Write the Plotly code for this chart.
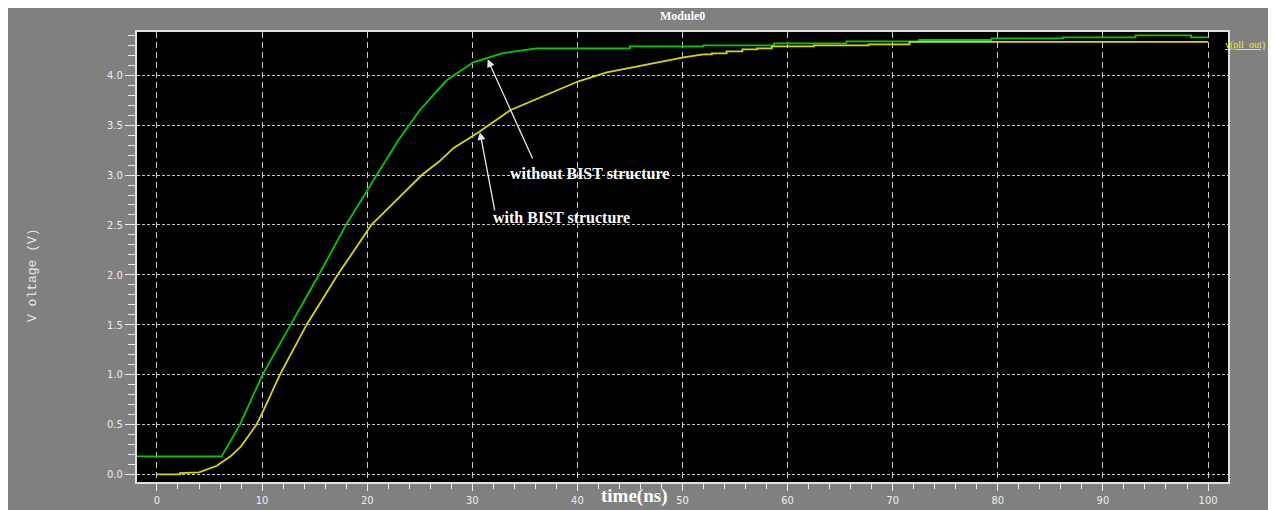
import plotly.graph_objects as go

# ---- data ----
t_without = [-1.9, 0, 2, 4, 6.15, 7.9, 10.05, 12.72, 15.41, 17.98, 20.9, 22.96, 25.0, 27.56, 30.1,
             32.8, 36.1, 40.0, 45.0, 45.0, 52.0, 52.0, 58.7, 58.7, 65.6, 65.6, 72.5, 72.5, 79.4,
             79.4, 86.2, 86.2, 93.1, 93.1, 98.4, 98.4, 100.0]
v_without = [0.18, 0.18, 0.18, 0.18, 0.18, 0.50, 1.00, 1.50, 2.00, 2.50, 3.00, 3.35, 3.65, 3.95, 4.13,
             4.22, 4.27, 4.27, 4.27, 4.29, 4.29, 4.30, 4.30, 4.32, 4.32, 4.34, 4.34, 4.354, 4.354,
             4.37, 4.37, 4.38, 4.38, 4.40, 4.40, 4.38, 4.38]

t_with = [0.0, 2.2, 2.2, 4.0, 5.7, 7.0, 8.0, 9.48, 10.0, 11.7, 14.24, 17.19, 20.4, 25.2, 26.9, 28.2,
          30.6, 33.6, 40.1, 42.8, 50.1, 52.0, 52.8, 52.8, 54.2, 54.2, 55.7, 55.7, 57.1, 57.1, 58.5,
          58.5, 62.5, 62.5, 67.7, 67.7, 71.6, 71.6, 100.0]
v_with = [0.0, 0.0, 0.013, 0.02, 0.086, 0.18, 0.28, 0.50, 0.61, 1.00, 1.50, 2.00, 2.50, 3.00, 3.14, 3.27,
          3.43, 3.65, 3.94, 4.03, 4.18, 4.21, 4.21, 4.22, 4.22, 4.24, 4.24, 4.26, 4.26, 4.27, 4.27,
          4.29, 4.29, 4.30, 4.30, 4.31, 4.31, 4.335, 4.335]

x_ticks = [0, 10, 20, 30, 40, 50, 60, 70, 80, 90, 100]
y_ticks = [0.0, 0.5, 1.0, 1.5, 2.0, 2.5, 3.0, 3.5, 4.0]

title_text = "Module0"
x_title = "time(ns)"
y_title = "V oltage (V)"
legend_text = "v(pll_out)"
label_without = "without BIST structure"
label_with = "with BIST structure"

X_RANGE = [-1.9, 101.9]
Y_RANGE = [-0.077, 4.434]

fig = go.Figure()
fig.add_trace(go.Scatter(x=t_without, y=v_without, mode="lines",
                         line=dict(color="#00cc00", width=1.8), name="without BIST"))
fig.add_trace(go.Scatter(x=t_with, y=v_with, mode="lines",
                         line=dict(color="#d8d800", width=1.8), name=legend_text))

tickfont = dict(family="Liberation Sans Narrow, DejaVu Sans Condensed, Arial Narrow", size=11, color="#eeeeee")

fig.update_xaxes(range=X_RANGE, tickvals=x_ticks, ticktext=[str(v) for v in x_ticks],
                 showgrid=True, gridcolor="#c8c8c8", gridwidth=1.3, griddash="6px,4px",
                 zeroline=False, showline=True, linecolor="#e0e0e0", linewidth=2, mirror=True,
                 ticks="outside", ticklen=7, tickcolor="#eeeeee", tickwidth=1, tickfont=tickfont,
                 minor=dict(dtick=2, ticks="outside", ticklen=5, tickcolor="#eeeeee", showgrid=False))
fig.update_yaxes(range=Y_RANGE, tickvals=y_ticks, ticktext=["%.1f" % v for v in y_ticks],
                 showgrid=True, gridcolor="#c8c8c8", gridwidth=1.3, griddash="3px,2px",
                 zeroline=False, showline=True, linecolor="#e0e0e0", linewidth=2, mirror=True,
                 ticks="outside", ticklen=10, tickcolor="#eeeeee", tickwidth=1, tickfont=tickfont,
                 minor=dict(dtick=0.1, ticks="outside", ticklen=7, tickcolor="#eeeeee", showgrid=False))

OFF = 8  # page body margin
W, H = 1276, 510
L, T = 137 - OFF, 32 - OFF
R, B = W + OFF - 1228, H + OFF - 482
pw, ph = W - L - R, H - T - B


def px_x(p):
    return (p - OFF - L) / pw


def px_y(p):
    return (H - B - (p - OFF)) / ph


serif = "Liberation Serif, Times New Roman, serif"

annotations = [
    dict(text="<b>" + title_text + "</b>", x=0.5, y=px_y(16), xref="paper", yref="paper",
         xanchor="center", yanchor="middle",
         showarrow=False, font=dict(family=serif, size=12, color="white")),
    dict(text=y_title, textangle=-90, x=px_x(32), y=px_y(275), xref="paper", yref="paper",
         xanchor="center", yanchor="middle",
         showarrow=False, font=dict(family="Liberation Mono, DejaVu Sans Mono, monospace", size=13, color="#e8e8e8")),
    dict(text="<b>" + x_title + "</b>", x=px_x(634), y=px_y(496), xref="paper", yref="paper",
         xanchor="center", yanchor="middle",
         showarrow=False, font=dict(family="Liberation Serif, serif", size=19, color="white")),
    dict(text="<u>" + legend_text + "</u>", x=px_x(1266), y=px_y(45), xref="paper", yref="paper",
         xanchor="right", yanchor="middle", showarrow=False, borderpad=0,
         font=dict(family="Liberation Sans Narrow, Liberation Serif, serif", size=10, color="#f0f000")),
    # arrows
    dict(x=31.46, y=4.16, ax=35.8, ay=3.15, axref="x", ayref="y", xref="x", yref="y",
         text="", showarrow=True, arrowhead=2, arrowsize=1.2, arrowwidth=1.3, arrowcolor="#e8e8e8"),
    dict(x=30.73, y=3.43, ax=32.16, ay=2.63, axref="x", ayref="y", xref="x", yref="y",
         text="", showarrow=True, arrowhead=2, arrowsize=1.2, arrowwidth=1.3, arrowcolor="#e8e8e8"),
    # labels
    dict(text="<b>" + label_without + "</b>", x=41.15, y=3.02, xref="x", yref="y",
         showarrow=False, font=dict(family=serif, size=16, color="white")),
    dict(text="<b>" + label_with + "</b>", x=38.5, y=2.57, xref="x", yref="y",
         showarrow=False, font=dict(family=serif, size=16, color="white")),
]

fig.update_layout(
    width=W, height=H, autosize=False,
    margin=dict(l=L, r=R, t=T, b=B, pad=0),
    paper_bgcolor="#808080", plot_bgcolor="black",
    showlegend=False,
    annotations=annotations,
)

fig.write_html("out.html")
